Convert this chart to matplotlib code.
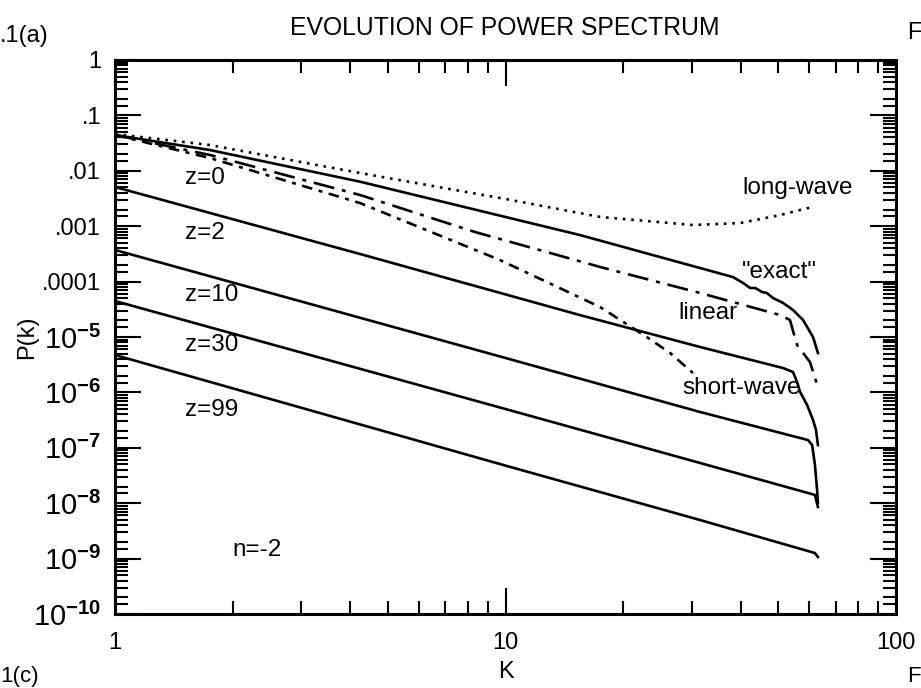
import numpy as np
import matplotlib
matplotlib.use("Agg")
import matplotlib.pyplot as plt
from matplotlib.ticker import LogLocator, FixedLocator, FixedFormatter, NullFormatter

plt.rcParams['font.family'] = ['Liberation Sans', 'DejaVu Sans']
plt.rcParams['mathtext.fontset'] = 'custom'
plt.rcParams['mathtext.rm'] = 'Liberation Sans'
plt.rcParams['mathtext.it'] = 'Liberation Sans:italic'
plt.rcParams['mathtext.bf'] = 'Liberation Sans:bold'

# ---------------- data ----------------
k_exact = [1, 1.75, 4.24, 15.5, 38.2, 40.6, 42.3, 43.6, 45.4, 46.7, 48.4, 51.4, 54.5, 57.8, 61.3, 63.1]
P_exact = [0.0443, 0.0237, 6.36e-3, 6.93e-4, 1.21e-4, 9.44e-5, 7.66e-5, 7.66e-5, 6.49e-5,
           6.23e-5, 5.06e-5, 4.11e-5, 3.07e-5, 2.03e-5, 1.0e-5, 5.14e-6]

k_long = [1, 1.75, 4.24, 10.0, 17.46, 30.2, 39.9, 50.5, 61.0]
P_long = [0.0462, 0.0292, 9.12e-3, 3.10e-3, 1.47e-3, 1.05e-3, 1.14e-3, 1.59e-3, 2.22e-3]

k_linear = [1, 1.75, 4.24, 8.35, 17.46, 31.5, 50.5, 53.5, 55.8, 60.2, 63.1]
P_linear = [0.0443, 0.0193, 3.66e-3, 7.86e-4, 1.84e-4, 6.23e-5, 2.49e-5, 2.03e-5, 7.18e-6, 3.54e-6, 1.25e-6]

k_short = [1, 1.75, 4.24, 9.68, 17.46, 23.0, 26.4, 30.2]
P_short = [0.0443, 0.0170, 2.62e-3, 2.45e-4, 3.48e-5, 1.0e-5, 5.14e-6, 2.24e-6]

k_z2 = [1, 4.24, 15.5, 31.5, 51.4, 54.5, 55.8, 56.8, 59.2, 61.3, 62.4, 63.1]
P_z2 = [5.10e-3, 3.15e-4, 2.49e-5, 6.60e-6, 2.75e-6, 2.33e-6, 1.54e-6, 1.02e-6, 5.93e-7, 3.18e-7, 2.10e-7, 1.12e-7]

k_z10 = [1, 10.0, 31.5, 59.5, 61.0, 62.0, 62.8, 63.1]
P_z10 = [3.72e-4, 4.18e-6, 4.43e-7, 1.38e-7, 1.12e-7, 4.90e-8, 1.73e-8, 1.01e-8]

k_z30 = [1, 10.0, 31.5, 62.0, 63.1]
P_z30 = [4.46e-5, 5.01e-7, 5.32e-8, 1.41e-8, 8.53e-9]

k_z99 = [1, 10.0, 31.5, 62.0, 63.1]
P_z99 = [4.73e-6, 4.77e-8, 4.97e-9, 1.26e-9, 1.07e-9]

y_ticks = [1, 1e-1, 1e-2, 1e-3, 1e-4, 1e-5, 1e-6, 1e-7, 1e-8, 1e-9, 1e-10]
y_labels = ['1', '.1', '.01', '.001', '.0001', r'$10^{\mathbf{-5}}$', r'$10^{\mathbf{-6}}$',
            r'$10^{\mathbf{-7}}$', r'$10^{\mathbf{-8}}$', r'$10^{\mathbf{-9}}$', r'$10^{\mathbf{-10}}$']
x_ticks = [1, 10, 100]
x_labels = ['1', '10', '100']

# ---------------- figure ----------------
W, H = 921, 688
fig = plt.figure(figsize=(W / 100, H / 100), dpi=100)
L, R, T, B = 115, 896, 60, 614
ax = fig.add_axes([L / W, 1 - B / H, (R - L) / W, (B - T) / H])

lw = 1.9
ax.plot(k_exact, P_exact, color='black', lw=lw, ls='-')
ax.plot(k_long, P_long, color='black', lw=lw, ls=(0, (1, 2.2)))
ax.plot(k_linear, P_linear, color='black', lw=lw, ls=(0, (8, 3, 1.5, 3)))
ax.plot(k_short, P_short, color='black', lw=lw, ls=(0, (4, 2.5, 1.5, 2.5)))
ax.plot(k_z2, P_z2, color='black', lw=lw)
ax.plot(k_z10, P_z10, color='black', lw=lw)
ax.plot(k_z30, P_z30, color='black', lw=lw)
ax.plot(k_z99, P_z99, color='black', lw=lw)

ax.set_xscale('log')
ax.set_yscale('log')
ax.set_xlim(1, 100)
ax.set_ylim(1e-10, 1)

ax.xaxis.set_major_locator(FixedLocator(x_ticks))
ax.xaxis.set_major_formatter(FixedFormatter(x_labels))
ax.yaxis.set_major_locator(FixedLocator(y_ticks))
ax.yaxis.set_major_formatter(FixedFormatter(y_labels))
ax.xaxis.set_minor_locator(LogLocator(base=10, subs=np.arange(2, 10), numticks=100))
ax.yaxis.set_minor_locator(LogLocator(base=10, subs=[1.5, 2, 3, 4, 5, 6, 7, 8, 9], numticks=100))
ax.xaxis.set_minor_formatter(NullFormatter())
ax.yaxis.set_minor_formatter(NullFormatter())

ax.tick_params(which='both', direction='in', top=True, right=True, width=1.5, color='black')
ax.tick_params(which='major', length=19)
ax.tick_params(which='minor', length=9.5)
ax.tick_params(axis='y', which='major', pad=10, labelsize=17)
ax.tick_params(axis='x', which='major', pad=13, labelsize=17)
for lab in ax.get_yticklabels()[5:]:
    lab.set_fontsize(21)

for s in ax.spines.values():
    s.set_linewidth(2.2)

ax.set_ylabel('P(k)', fontsize=17, labelpad=-4)
ax.set_xlabel('K', fontsize=17, labelpad=5)

fs = 17.5
tx = ax.transAxes
ax.text(0.0896, 0.787, 'z=0', transform=tx, fontsize=fs, va='center', ha='left')
ax.text(0.0896, 0.688, 'z=2', transform=tx, fontsize=fs, va='center', ha='left')
ax.text(0.0896, 0.576, 'z=10', transform=tx, fontsize=fs, va='center', ha='left')
ax.text(0.0896, 0.4856, 'z=30', transform=tx, fontsize=fs, va='center', ha='left')
ax.text(0.0896, 0.368, 'z=99', transform=tx, fontsize=fs, va='center', ha='left')
ax.text(0.151, 0.1155, 'n=-2', transform=tx, fontsize=fs, va='center', ha='left')
ax.text(0.803, 0.769, 'long-wave', transform=tx, fontsize=fs, va='center', ha='left')
ax.text(0.803, 0.617, '"exact"', transform=tx, fontsize=fs, va='center', ha='left')
ax.text(0.721, 0.543, 'linear', transform=tx, fontsize=fs, va='center', ha='left')
ax.text(0.726, 0.408, 'short-wave', transform=tx, fontsize=fs, va='center', ha='left')

fig.text(505 / W, 1 - 28 / H, 'EVOLUTION OF POWER SPECTRUM', fontsize=17.8, ha='center', va='center')
fig.text(0, 1 - 36 / H, '.1(a)', fontsize=17, ha='left', va='center')
fig.text(907 / W, 1 - 33 / H, 'F', fontsize=17, ha='left', va='center')
fig.text(0, 1 / H, '1(c)', fontsize=16, ha='left', va='bottom')
fig.text(907 / W, 1 / H, 'F', fontsize=16, ha='left', va='bottom')

fig.savefig('out.png', dpi=100)
